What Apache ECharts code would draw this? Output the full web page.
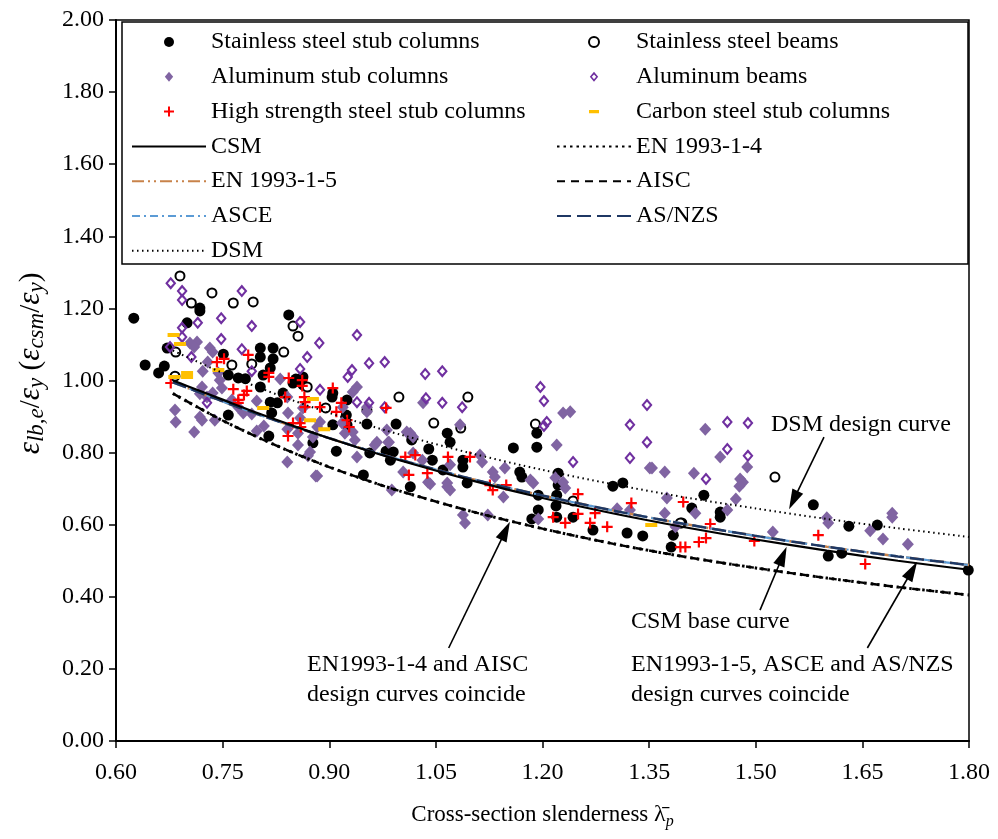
<!DOCTYPE html>
<html>
<head>
<meta charset="utf-8">
<script src="https://cdn.jsdelivr.net/npm/echarts@6/dist/echarts.min.js"></script>
<style>html,body{margin:0;padding:0;background:#fff;}#c{width:998px;height:839px;}</style>
</head>
<body>
<div id="c"></div>
<script>
// ---- axes ----
const xTicks = [0.60, 0.75, 0.90, 1.05, 1.20, 1.35, 1.50, 1.65, 1.80];
const yTicks = [0.00, 0.20, 0.40, 0.60, 0.80, 1.00, 1.20, 1.40, 1.60, 1.80, 2.00];

// ---- design curves ----
const lambdaCurve = [0.68, 0.70, 0.75, 0.80, 0.85, 0.90, 0.95, 1.00, 1.10, 1.20, 1.30, 1.40, 1.50, 1.60, 1.70, 1.80];
const csmCurve    = [1.000, 0.985, 0.947, 0.909, 0.874, 0.840, 0.808, 0.778, 0.723, 0.674, 0.631, 0.593, 0.559, 0.528, 0.500, 0.475];
const en14Curve   = [0.964, 0.942, 0.889, 0.842, 0.799, 0.760, 0.725, 0.693, 0.637, 0.589, 0.547, 0.511, 0.480, 0.452, 0.427, 0.405];
const aiscCurve   = [0.964, 0.942, 0.889, 0.842, 0.799, 0.760, 0.725, 0.693, 0.637, 0.589, 0.547, 0.511, 0.480, 0.452, 0.427, 0.405];
const en15Curve   = [0.995, 0.980, 0.942, 0.906, 0.872, 0.840, 0.809, 0.780, 0.727, 0.681, 0.639, 0.602, 0.569, 0.539, 0.512, 0.488];
const asceCurve   = [0.995, 0.980, 0.942, 0.906, 0.872, 0.840, 0.809, 0.780, 0.727, 0.681, 0.639, 0.602, 0.569, 0.539, 0.512, 0.488];
const asnzsCurve  = [0.995, 0.980, 0.942, 0.906, 0.872, 0.840, 0.809, 0.780, 0.727, 0.681, 0.639, 0.602, 0.569, 0.539, 0.512, 0.488];
const dsmCurve    = [1.083, 1.065, 1.021, 0.981, 0.944, 0.910, 0.879, 0.850, 0.798, 0.752, 0.712, 0.676, 0.645, 0.616, 0.590, 0.566];

// ---- test data ----
const ssStub = [[0.625,1.173],[0.641,1.043],[0.660,1.021],[0.668,1.040],[0.672,1.090],[0.700,1.160],[0.718,1.201],[0.718,1.193],
[0.751,1.073],[0.758,1.015],[0.758,0.904],[0.772,1.007],[0.782,1.005],[0.803,1.090],[0.803,1.065],[0.821,1.090],[0.821,1.060],
[0.803,0.982],[0.807,1.015],[0.817,1.035],[0.843,1.182],[0.849,0.993],[0.863,1.010],[0.863,0.988],[0.817,0.940],[0.827,0.938],
[0.819,0.910],[0.815,0.846],[0.835,0.965],[0.905,0.965],[0.904,0.954],[0.925,0.946],[0.924,0.904],[0.953,0.918],[0.953,0.879],
[0.994,0.879],[0.877,0.827],[0.910,0.804],[0.948,0.738],[0.957,0.799],[0.980,0.804],[0.986,0.779],[0.990,0.802],[1.014,0.705],
[1.040,0.810],[1.045,0.779],[1.066,0.854],[1.060,0.752],[1.016,0.835],[1.070,0.829],[1.088,0.779],[1.088,0.760],[1.094,0.716],
[1.159,0.813],[1.192,0.854],[1.192,0.815],[1.168,0.746],[1.171,0.732],[1.222,0.743],[1.222,0.710],[1.194,0.682],[1.220,0.682],
[1.219,0.652],[1.194,0.641],[1.185,0.616],[1.220,0.621],[1.243,0.621],[1.271,0.585],[1.299,0.707],[1.313,0.716],[1.319,0.577],
[1.341,0.569],[1.384,0.571],[1.381,0.538],[1.427,0.682],[1.410,0.646],[1.450,0.635],[1.450,0.621],[1.581,0.655],[1.631,0.596],
[1.671,0.599],[1.602,0.513],[1.621,0.521],[1.799,0.474],[1.396,0.605],[0.905,0.877],[0.925,0.877],[0.853,1.004]];

const ssBeam = [[0.690,1.290],[0.735,1.243],[0.706,1.215],[0.765,1.215],[0.793,1.218],[0.684,1.079],[0.683,1.012],[0.763,1.043],
[0.791,1.046],[0.849,1.151],[0.856,1.123],[0.836,1.079],[0.869,0.982],[0.895,0.924],[0.998,0.954],[1.047,0.882],[1.095,0.954],
[1.085,0.868],[1.190,0.879],[1.527,0.732],[1.243,0.666],[1.394,0.605]];

const alStub = [[0.683,0.918],[0.684,0.885],[0.710,0.857],[0.718,0.899],[0.721,0.890],[0.739,0.890],[0.714,1.107],[0.732,1.090],
[0.736,1.079],[0.729,1.051],[0.722,1.026],[0.744,1.021],[0.746,1.001],[0.749,0.979],[0.721,0.982],[0.718,0.963],[0.728,0.954],
[0.736,0.965],[0.763,0.946],[0.779,0.910],[0.772,0.926],[0.798,0.943],[0.791,0.907],[0.808,0.874],[0.798,0.860],[0.831,1.004],
[0.842,0.910],[0.841,0.865],[0.856,0.854],[0.859,0.896],[0.887,0.885],[0.883,0.871],[0.877,0.843],[0.856,0.821],[0.873,0.802],
[0.841,0.774],[0.883,0.735],[0.918,0.882],[0.922,0.854],[0.933,0.857],[0.936,0.835],[0.939,0.788],[0.953,0.913],[0.967,0.829],
[0.981,0.863],[0.983,0.829],[0.988,0.696],[1.014,0.854],[1.018,0.799],[1.031,0.779],[1.042,0.713],[1.066,0.705],[0.939,0.982],
[0.933,0.968],[0.953,0.926],[0.919,0.926],[0.863,0.924],[0.841,0.954],[0.704,1.104],[0.710,1.093],[1.009,0.857],[1.018,0.843],
[1.004,0.746],[1.032,0.938],[1.039,0.718],[1.066,0.716],[1.070,0.696],[1.070,0.766],[1.088,0.627],[1.091,0.605],[1.084,0.877],
[1.112,0.793],[1.115,0.774],[1.123,0.627],[1.130,0.746],[1.133,0.732],[1.145,0.677],[1.147,0.757],[1.183,0.724],[1.187,0.716],
[1.220,0.821],[1.218,0.730],[1.229,0.718],[1.232,0.702],[1.229,0.910],[1.239,0.913],[1.375,0.674],[1.372,0.632],[1.354,0.757],
[1.372,0.746],[1.413,0.743],[1.194,0.616],[1.305,0.644],[1.323,0.641],[1.415,0.632],[1.429,0.865],[1.450,0.788],[1.488,0.760],
[1.478,0.727],[1.482,0.718],[1.477,0.707],[1.472,0.671],[1.460,0.641],[1.524,0.580],[1.600,0.619],[1.602,0.605],[1.661,0.583],
[1.679,0.560],[1.692,0.632],[1.692,0.621],[1.714,0.546],[0.870,0.791],[0.964,0.821],[0.984,0.829],[1.387,0.594],[1.351,0.757],
[0.881,0.735]];

const alBeam = [[0.677,1.270],[0.693,1.248],[0.693,1.223],[0.777,1.248],[0.748,1.173],[0.715,1.160],[0.791,1.151],[0.693,1.146],
[0.693,1.121],[0.859,1.162],[0.748,1.115],[0.777,1.087],[0.886,1.104],[0.869,1.065],[0.939,1.126],[0.859,1.032],[0.791,1.026],
[0.706,1.065],[0.676,1.093],[0.956,1.048],[0.978,1.051],[0.926,1.010],[0.932,1.029],[0.939,0.940],[0.956,0.938],[0.728,0.938],
[1.035,1.018],[1.059,1.026],[1.036,0.951],[1.059,0.938],[0.978,0.926],[0.887,0.974],[1.197,0.982],[1.202,0.943],[1.206,0.885],
[1.202,0.874],[1.243,0.774],[1.347,0.932],[1.323,0.877],[1.347,0.829],[1.323,0.785],[1.460,0.885],[1.489,0.882],[1.460,0.810],
[1.489,0.791],[1.430,0.727],[1.087,0.926]];

const hss = [[0.677,0.993],[0.742,1.051],[0.752,1.060],[0.786,1.071],[0.815,1.021],[0.815,1.010],[0.843,1.007],[0.862,1.001],
[0.862,0.985],[0.765,0.976],[0.784,0.971],[0.780,0.960],[0.772,0.946],[0.772,0.938],[0.838,0.954],[0.865,0.954],[0.866,0.940],
[0.866,0.926],[0.887,0.926],[0.905,0.979],[0.917,0.938],[0.910,0.913],[0.925,0.890],[0.928,0.871],[0.980,0.924],[0.849,0.882],
[0.859,0.882],[0.860,0.871],[0.842,0.846],[1.007,0.788],[1.021,0.793],[1.012,0.738],[1.038,0.743],[1.067,0.788],[1.098,0.788],
[1.126,0.710],[1.130,0.696],[1.149,0.710],[1.215,0.621],[1.232,0.605],[1.250,0.685],[1.250,0.630],[1.267,0.605],[1.291,0.594],
[1.274,0.632],[1.325,0.660],[1.398,0.663],[1.394,0.538],[1.401,0.538],[1.420,0.552],[1.436,0.602],[1.430,0.563],[1.498,0.555],
[1.588,0.571],[1.654,0.491]];

const csStub = [[0.681,1.126],[0.690,1.101],[0.700,1.021],[0.700,1.010],[0.682,1.010],[0.744,1.029],[0.807,0.924],[0.877,0.949],
[0.873,0.890],[0.893,0.865],[1.353,0.599]];

// annotation arrows [tail, head] in data units
const arrowDSM  = [[1.596, 0.843], [1.553, 0.668]];
const arrowCSM  = [[1.506, 0.363], [1.538, 0.513]];
const arrowEN14 = [[1.068, 0.258], [1.148, 0.583]];
const arrowEN15 = [[1.657, 0.258], [1.720, 0.473]];

const FONT = '"Liberation Serif","Times New Roman",serif';
const pair = (ys) => lambdaCurve.map((x, i) => [x, ys[i]]);
const PLUS = 'path://M4,0H6V4H10V6H6V10H4V6H0V4H4Z';
const DASH = 'path://M0,0L0.01,0L0,0.01Z M0,4H12V8H0Z M0,12L0.01,12L0,11.99Z';
const DIAMOND = 'path://M5,0L10,6L5,12L0,6Z';
const OPEN_DIAMOND = 'path://M5,0L10,6L5,12L0,6Z M5,3.1L2.4,6L5,8.9L7.6,6Z';

const chart = echarts.init(document.getElementById('c'), null, {renderer: 'canvas'});

function lineSeries(name, ys, color, width, type, z) {
  return {
    name, type: 'line', data: pair(ys), symbol: 'none', smooth: 0.3, z: z || 5,
    lineStyle: {color, width, type, cap: 'butt'}, itemStyle: {color, opacity: 0},
    silent: true, animation: false
  };
}

const csm = lineSeries('CSM', csmCurve, '#000', 2.2, 'solid', 9);
csm.markLine = {
  silent: true, animation: false, symbol: ['none', 'triangle'], symbolSize: [12, 20],
  label: {show: false}, lineStyle: {color: '#000', width: 1.6, type: 'solid', opacity: 1},
  itemStyle: {color: '#000', opacity: 1},
  data: [arrowDSM, arrowCSM, arrowEN14, arrowEN15].map(a => [{coord: a[0]}, {coord: a[1]}])
};

const legendBase = {orient: 'vertical', top: 30, padding: 0, itemWidth: 74, itemHeight: 10, itemGap: 10.8,
  selectedMode: false, symbolKeepAspect: true,
  textStyle: {fontFamily: FONT, fontSize: 24, color: '#000', lineHeight: 24}};

const option = {
  animation: false,
  backgroundColor: '#fff',
  grid: {left: 116, right: 29, top: 20, bottom: 98, show: true, borderColor: '#000', borderWidth: 1.5,
         backgroundColor: 'transparent', containLabel: false, outerBoundsMode: 'none'},
  xAxis: {
    type: 'value', min: xTicks[0], max: xTicks[xTicks.length - 1], interval: 0.15,
    axisLine: {show: true, lineStyle: {color: '#000', width: 2}},
    axisTick: {show: true, inside: false, length: 7, lineStyle: {color: '#000', width: 1.5}},
    axisLabel: {formatter: v => v.toFixed(2), fontSize: 24, fontFamily: FONT, color: '#000', margin: 20},
    splitLine: {show: false},
    name: '{n|Cross-section slenderness }{l|λ̄}{s|p}', nameLocation: 'middle', nameGap: 59,
    nameTextStyle: {fontFamily: FONT, color: '#000', fontSize: 23, rich: {
      n: {fontFamily: FONT, fontSize: 23, color: '#000', lineHeight: 30},
      l: {fontFamily: FONT, fontSize: 24, color: '#000', lineHeight: 30},
      s: {fontFamily: FONT, fontSize: 16, fontStyle: 'italic', color: '#000', lineHeight: 12, verticalAlign: 'bottom'}
    }}
  },
  yAxis: {
    type: 'value', min: yTicks[0], max: yTicks[yTicks.length - 1], interval: 0.2,
    axisLine: {show: true, lineStyle: {color: '#000', width: 2}},
    axisTick: {show: true, inside: false, length: 7, lineStyle: {color: '#000', width: 1.5}},
    axisLabel: {formatter: v => v.toFixed(2), fontSize: 24, fontFamily: FONT, color: '#000', margin: 12},
    splitLine: {show: false},
    name: '{i|ε}{s|lb,e}{n|/}{i|ε}{s|y}{n| (}{i|ε}{s|csm}{n|/}{i|ε}{s|y}{n|)}',
    nameLocation: 'middle', nameGap: 68,
    nameTextStyle: {fontFamily: FONT, color: '#000', fontSize: 30, padding: [0, 0, 0, 34], rich: {
      i: {fontFamily: FONT, fontSize: 31, fontStyle: 'italic', color: '#000', lineHeight: 34},
      n: {fontFamily: FONT, fontSize: 29, color: '#000', lineHeight: 34},
      s: {fontFamily: FONT, fontSize: 23, fontStyle: 'italic', color: '#000', lineHeight: 16, verticalAlign: 'bottom'}
    }}
  },
  legend: [
    Object.assign({}, legendBase, {left: 131,
      data: ['Stainless steel stub columns', 'Aluminum stub columns', 'High strength steel stub columns', 'CSM', 'EN 1993-1-5', 'ASCE', 'DSM']}),
    Object.assign({}, legendBase, {left: 556,
      data: ['Stainless steel beams', 'Aluminum beams', 'Carbon steel stub columns', 'EN 1993-1-4', 'AISC', 'AS/NZS']})
  ],
  graphic: [
    {type: 'rect', z: 3, shape: {x: 122, y: 22, width: 846, height: 242}, style: {fill: '#fff', stroke: '#000', lineWidth: 1.5}},
    {type: 'text', z: 10, x: 771, y: 425, style: {text: 'DSM design curve', font: '24px ' + FONT, fill: '#000', align: 'left', verticalAlign: 'middle'}},
    {type: 'text', z: 10, x: 631, y: 622, style: {text: 'CSM base curve', font: '24px ' + FONT, fill: '#000', align: 'left', verticalAlign: 'middle'}},
    {type: 'text', z: 10, x: 307, y: 665, style: {text: 'EN1993-1-4 and AISC', font: '24px ' + FONT, fill: '#000', align: 'left', verticalAlign: 'middle'}},
    {type: 'text', z: 10, x: 307, y: 695, style: {text: 'design curves coincide', font: '24px ' + FONT, fill: '#000', align: 'left', verticalAlign: 'middle'}},
    {type: 'text', z: 10, x: 631, y: 665, style: {text: 'EN1993-1-5, ASCE and AS/NZS', font: '24px ' + FONT, fill: '#000', align: 'left', verticalAlign: 'middle'}},
    {type: 'text', z: 10, x: 631, y: 695, style: {text: 'design curves coincide', font: '24px ' + FONT, fill: '#000', align: 'left', verticalAlign: 'middle'}}
  ],
  series: [
    {name: 'Stainless steel stub columns', type: 'scatter', data: ssStub, symbol: 'circle', symbolSize: 11,
     itemStyle: {color: '#000', opacity: 1}, z: 2},
    {name: 'Stainless steel beams', type: 'scatter', data: ssBeam, symbol: 'emptyCircle', symbolSize: 9,
     itemStyle: {color: '#000', borderColor: '#000', borderWidth: 2, opacity: 1}, z: 2},
    {name: 'Aluminum stub columns', type: 'scatter', data: alStub, symbol: DIAMOND, symbolSize: [12, 13],
     itemStyle: {color: '#8064A2', opacity: 1}, z: 2},
    {name: 'Aluminum beams', type: 'scatter', data: alBeam, symbol: OPEN_DIAMOND, symbolSize: [11, 13],
     itemStyle: {color: '#7030A0', opacity: 1}, z: 2},
    {name: 'High strength steel stub columns', type: 'scatter', data: hss, symbol: PLUS, symbolSize: 11,
     itemStyle: {color: '#FF0000', opacity: 1}, z: 3},
    {name: 'Carbon steel stub columns', type: 'scatter', data: csStub, symbol: DASH, symbolSize: 12,
     itemStyle: {color: '#FFC000', opacity: 1}, z: 3},
    lineSeries('EN 1993-1-4', en14Curve, '#000', 3, [2.5, 4], 6),
    lineSeries('AISC', aiscCurve, '#000', 2.4, [8, 6], 6),
    csm,
    lineSeries('EN 1993-1-5', en15Curve, '#C8824A', 2.5, [12, 4, 2, 4, 2, 4], 7),
    lineSeries('ASCE', asceCurve, '#5B9BD5', 2.2, [8, 4, 2, 4], 7),
    lineSeries('AS/NZS', asnzsCurve, '#1F3864', 2.5, [14, 6], 8),
    lineSeries('DSM', dsmCurve, '#000', 2, [1.5, 3.5], 6)
  ]
};
chart.setOption(option);
</script>
</body>
</html>
